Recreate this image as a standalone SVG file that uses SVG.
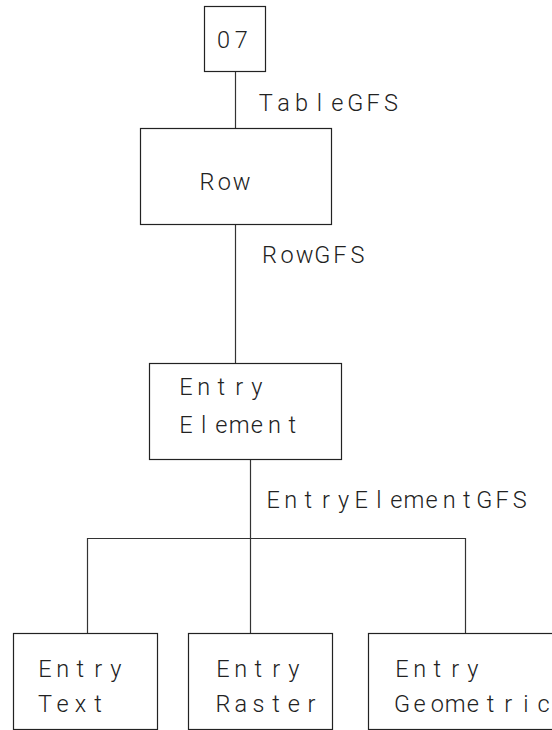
<svg xmlns="http://www.w3.org/2000/svg" width="552" height="730" viewBox="0 0 552 730">
<style>
.box{fill:#fff;stroke:#222;stroke-width:1.2}
.ln{fill:none;stroke:#333;stroke-width:1.2}
text{font-family:Roboto,"Liberation Sans",sans-serif;font-weight:300;font-size:23.5px;fill:#222;text-anchor:middle}
</style>
<rect width="552" height="730" fill="#fff"/>
<g id="connectors">
<line class="ln" x1="235.5" y1="71" x2="235.5" y2="128"/>
<line class="ln" x1="235.5" y1="224" x2="235.5" y2="363"/>
<line class="ln" x1="250.5" y1="459" x2="250.5" y2="538"/>
<line class="ln" x1="87" y1="538.5" x2="465" y2="538.5"/>
<line class="ln" x1="87.5" y1="538" x2="87.5" y2="633"/>
<line class="ln" x1="250.5" y1="538" x2="250.5" y2="633"/>
<line class="ln" x1="465.5" y1="538" x2="465.5" y2="633"/>
<text x="265.7 283.6 301.5 319.4 337.3 355.2 373.1 391.0" y="111">TableGFS</text>
<text x="269.5 287.1 304.7 322.3 339.9 357.5" y="263">RowGFS</text>
<text x="273.2 290.8 308.4 326.0 343.6 361.2 378.8 396.4 414.0 431.6 449.2 466.8 484.4 502.0 519.6" y="508">EntryElementGFS</text>
</g>
<g id="node-07">
<rect class="box" x="204.5" y="6.5" width="61" height="65"/>
<text x="223.5 241.3" y="48">07</text>
</g>
<g id="node-row">
<rect class="box" x="140.5" y="128.5" width="191" height="96"/>
<text x="207 224.3 241.6" y="190">Row</text>
</g>
<g id="node-entry-element">
<rect class="box" x="149.5" y="363.5" width="192" height="96"/>
<text x="186 203.7 221.4 239.1 256.8" y="395">Entry</text>
<text x="186 203.7 221.4 239.1 256.8 274.5 292.2" y="433">Element</text>
</g>
<g id="node-entry-text">
<rect class="box" x="13.5" y="633.5" width="144" height="96"/>
<text x="45 62.7 80.4 98.1 115.8" y="677">Entry</text>
<text x="45 62.7 80.4 98.1" y="712">Text</text>
</g>
<g id="node-entry-raster">
<rect class="box" x="188.5" y="633.5" width="144" height="96"/>
<text x="223 240.7 258.4 276.1 293.8" y="677">Entry</text>
<text x="223 240.7 258.4 276.1 293.8 311.5" y="712">Raster</text>
</g>
<g id="node-entry-geometric">
<rect class="box" x="368.5" y="633.5" width="200" height="96"/>
<text x="402 419.7 437.4 455.1 472.8" y="677">Entry</text>
<text x="402 419.7 437.4 455.1 472.8 490.5 508.2 525.9 543.6" y="712">Geometric</text>
</g>
</svg>
